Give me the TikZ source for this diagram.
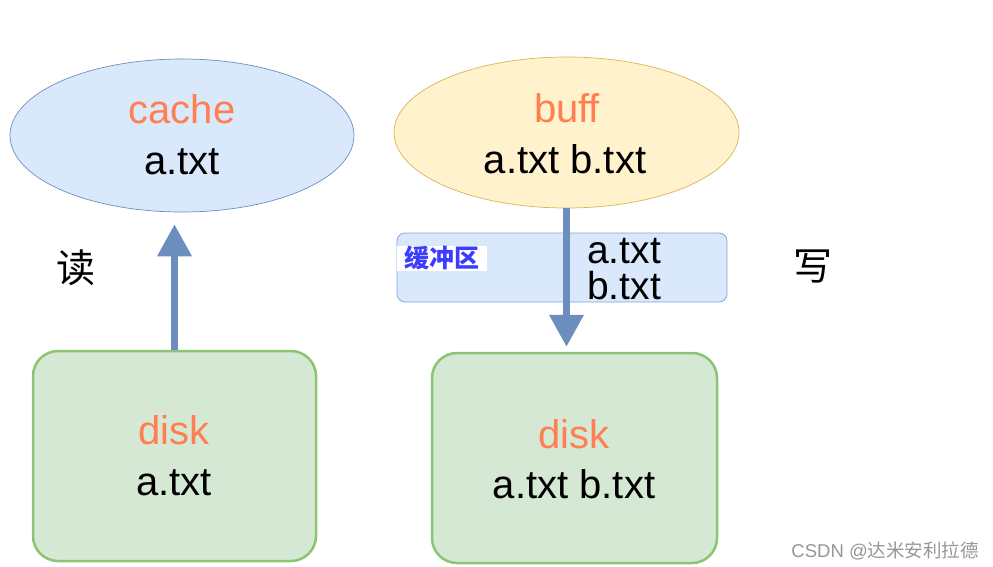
\documentclass[tikz,border=0pt]{standalone}
\usepackage{fontspec}
\setmainfont{Liberation Sans}
\newfontfamily\cjk{Noto Sans CJK SC}
\usetikzlibrary{shapes.geometric,arrows.meta}
\definecolor{bluefill}{HTML}{DAE8FC}
\definecolor{bluedraw}{HTML}{6C8EBF}
\definecolor{bufdraw}{HTML}{7EA6E0}
\definecolor{yelfill}{HTML}{FFF2CC}
\definecolor{yeldraw}{HTML}{D6B656}
\definecolor{grnfill}{HTML}{D5E8D4}
\definecolor{grndraw}{HTML}{8CC474}
\definecolor{coral}{RGB}{255,127,80}
\definecolor{labblue}{RGB}{60,60,255}
\definecolor{wmgray}{RGB}{150,150,150}
\tikzset{
  memell/.style={ellipse, inner sep=0pt, line width=0.7pt},
  diskbox/.style={rectangle, rounded corners=25pt, fill=grnfill, draw=grndraw, line width=2.5pt, inner sep=0pt},
  ttl/.style={anchor=base, text=coral, font=\fontsize{40}{44}\selectfont, inner sep=0pt},
  body/.style={anchor=base, text=black, font=\fontsize{40}{44}\selectfont, inner sep=0pt},
  flow/.style={draw=bluedraw, line width=7pt, -{Triangle[width=33pt,length=32pt]}},
  side/.style={font=\cjk\fontsize{39}{40}\selectfont, inner sep=0pt}
}
\begin{document}
\begin{tikzpicture}[x=1pt,y=-1pt]
\useasboundingbox (0,0) rectangle (993,567);
% left: read
\node[memell, fill=bluefill, draw=bluedraw, minimum width=344pt, minimum height=153pt] (cache) at (182,135.5) {};
\node[ttl] (cachet) at (182,124) {cache};
\node[body] (cachea) at (182,174) {a.txt};
\node[diskbox, minimum width=283pt, minimum height=210pt] (disk1) at (174.5,456) {};
\node[ttl] (disk1t) at (174,444) {disk};
\node[body] (disk1a) at (174,495) {a.txt};
\draw[flow, shorten >=12pt] (disk1.north) -- (disk1.north |- cache.south);
\node[side] (read) at (76,268) {读};
% right: write
\node[memell, fill=yelfill, draw=yeldraw, minimum width=345pt, minimum height=151pt] (buff) at (566.5,132.5) {};
\node[ttl] (bufft) at (567,123) {buff};
\node[body] (buffa) at (565,173) {a.txt b.txt};
\node[rectangle, rounded corners=8pt, fill=bluefill, draw=bufdraw, line width=0.8pt, minimum width=330pt, minimum height=69pt, inner sep=0pt] (buffer) at (562,267.5) {};
\node[fill=white, minimum width=90pt, minimum height=25pt, inner sep=0pt, text=labblue, font=\cjk\bfseries\fontsize{25}{26}\selectfont] (bufl) at (442,258) {缓冲区};
\node[body, font=\fontsize{39}{42}\selectfont] (bufa) at (624,263) {a.txt};
\node[body, font=\fontsize{39}{42}\selectfont] (bufb) at (624,299) {b.txt};
\node[diskbox, minimum width=285pt, minimum height=210pt] (disk2) at (574.5,458) {};
\node[ttl] (disk2t) at (574,448) {disk};
\node[body] (disk2a) at (574,498) {a.txt b.txt};
\draw[flow, shorten >=5pt] (buff.south) -- (buff.south |- disk2.north);
\node[side] (write) at (813,267) {写};
% watermark
\node[anchor=east, inner sep=0pt, text=wmgray, font=\fontsize{18.5}{20}\selectfont] (wm) at (979,551) {CSDN @{\cjk 达米安利拉德}};
\end{tikzpicture}
\end{document}
